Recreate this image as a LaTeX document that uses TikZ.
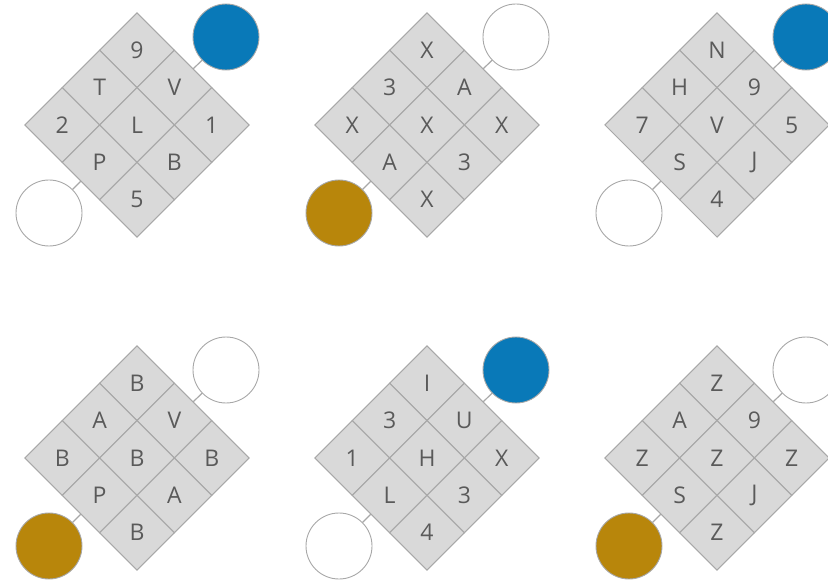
\documentclass[tikz,border=0pt]{standalone}
\usepackage{fontspec}
\setmainfont{Open Sans}
\usepackage{xcolor}
\usepackage{tikz}
\usetikzlibrary{shapes.geometric}

\definecolor{cellgray}{HTML}{D9D9D9}
\definecolor{linegray}{HTML}{A8A8A8}
\definecolor{textgray}{HTML}{5A5A5A}
\definecolor{dotblue}{HTML}{0979B8}
\definecolor{dotgold}{HTML}{B8860B}

\begin{document}
\begin{tikzpicture}[
  x=1pt, y=1pt,
  cell/.style={diamond, aspect=1, draw=linegray, line width=1pt, fill=cellgray, inner sep=0pt, outer sep=0pt,
    minimum width=74.7pt, minimum height=74.7pt, text=textgray, font=\fontsize{23}{23}\selectfont},
  dot/.style={circle, draw=linegray, line width=0.9pt, minimum size=66pt, inner sep=0pt, fill=white},
  link/.style={draw=linegray, line width=1.2pt}
]
  \useasboundingbox (0,0) rectangle (828,582);

  % Top row, left: 9 T V 2 L 1 P B 5
  \foreach \dx/\dy/\t [count=\k] in {0/2/9, -1/1/T, 1/1/V, -2/0/2, 0/0/L, 2/0/1, -1/-1/P, 1/-1/B, 0/-2/5}
    \node[cell] (a\k) at (137+37.35*\dx, 457+37.35*\dy) {\t};
  \node[dot, fill=dotblue] (a-tr) at (226, 545) {};
  \node[dot] (a-bl) at (49, 369) {};
  \draw[link] (a3.north east) -- (a-tr);
  \draw[link] (a7.south west) -- (a-bl);

  % Top row, middle
  \foreach \dx/\dy/\t [count=\k] in {0/2/X, -1/1/3, 1/1/A, -2/0/X, 0/0/X, 2/0/X, -1/-1/A, 1/-1/3, 0/-2/X}
    \node[cell] (b\k) at (427+37.35*\dx, 457+37.35*\dy) {\t};
  \node[dot] (b-tr) at (516, 545) {};
  \node[dot, fill=dotgold] (b-bl) at (339, 369) {};
  \draw[link] (b3.north east) -- (b-tr);
  \draw[link] (b7.south west) -- (b-bl);

  % Top row, right
  \foreach \dx/\dy/\t [count=\k] in {0/2/N, -1/1/H, 1/1/9, -2/0/7, 0/0/V, 2/0/5, -1/-1/S, 1/-1/J, 0/-2/4}
    \node[cell] (c\k) at (717+37.35*\dx, 457+37.35*\dy) {\t};
  \node[dot, fill=dotblue] (c-tr) at (806, 545) {};
  \node[dot] (c-bl) at (629, 369) {};
  \draw[link] (c3.north east) -- (c-tr);
  \draw[link] (c7.south west) -- (c-bl);

  % Bottom row, left
  \foreach \dx/\dy/\t [count=\k] in {0/2/B, -1/1/A, 1/1/V, -2/0/B, 0/0/B, 2/0/B, -1/-1/P, 1/-1/A, 0/-2/B}
    \node[cell] (d\k) at (137+37.35*\dx, 124+37.35*\dy) {\t};
  \node[dot] (d-tr) at (226, 212) {};
  \node[dot, fill=dotgold] (d-bl) at (49, 36) {};
  \draw[link] (d3.north east) -- (d-tr);
  \draw[link] (d7.south west) -- (d-bl);

  % Bottom row, middle
  \foreach \dx/\dy/\t [count=\k] in {0/2/I, -1/1/3, 1/1/U, -2/0/1, 0/0/H, 2/0/X, -1/-1/L, 1/-1/3, 0/-2/4}
    \node[cell] (e\k) at (427+37.35*\dx, 124+37.35*\dy) {\t};
  \node[dot, fill=dotblue] (e-tr) at (516, 212) {};
  \node[dot] (e-bl) at (339, 36) {};
  \draw[link] (e3.north east) -- (e-tr);
  \draw[link] (e7.south west) -- (e-bl);

  % Bottom row, right
  \foreach \dx/\dy/\t [count=\k] in {0/2/Z, -1/1/A, 1/1/9, -2/0/Z, 0/0/Z, 2/0/Z, -1/-1/S, 1/-1/J, 0/-2/Z}
    \node[cell] (f\k) at (717+37.35*\dx, 124+37.35*\dy) {\t};
  \node[dot] (f-tr) at (806, 212) {};
  \node[dot, fill=dotgold] (f-bl) at (629, 36) {};
  \draw[link] (f3.north east) -- (f-tr);
  \draw[link] (f7.south west) -- (f-bl);
\end{tikzpicture}
\end{document}
